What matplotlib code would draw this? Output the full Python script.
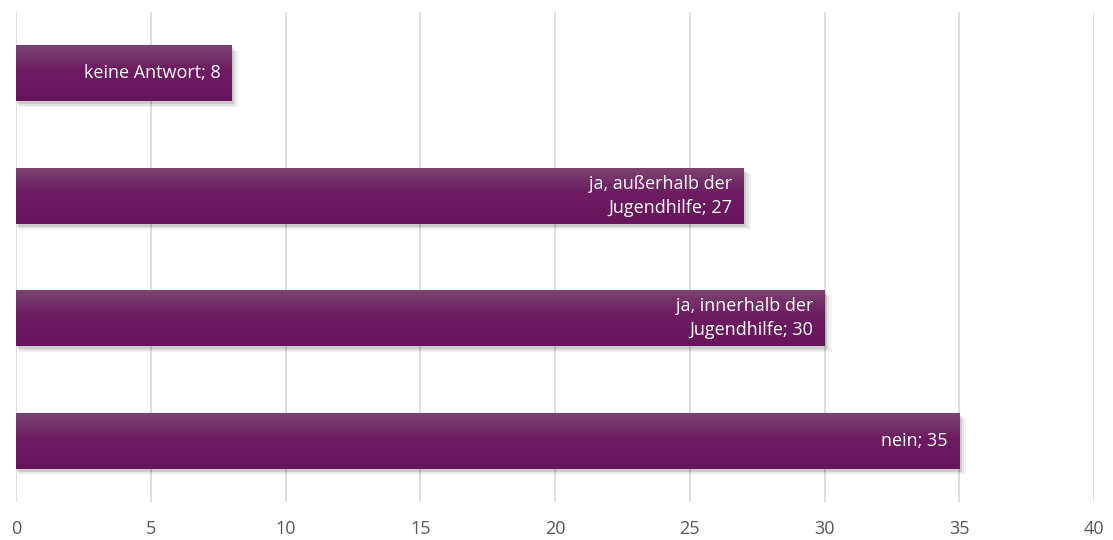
import matplotlib
matplotlib.use("Agg")
import matplotlib.pyplot as plt
import numpy as np
from matplotlib.patches import Rectangle
import matplotlib.colors as mcolors

categories = ["nein", "ja, innerhalb der\nJugendhilfe", "ja, außerhalb der\nJugendhilfe", "keine Antwort"]
values = [35, 30, 27, 8]
xticks = [0, 5, 10, 15, 20, 25, 30, 35, 40]

plt.rcParams['font.family'] = ['Open Sans', 'DejaVu Sans']

fig = plt.figure(figsize=(11.13, 5.4), dpi=100)
ax = fig.add_axes([16/1113, 38/540, (1094-16)/1113, (502-12)/540])

bar_h = 0.46
top_col = np.array(mcolors.to_rgb("#7c4472"))
mid_col = np.array(mcolors.to_rgb("#6d1c61"))
bot_col = np.array(mcolors.to_rgb("#66155a"))
n = 100
t = np.linspace(0, 1, n)
grad = np.zeros((n, 1, 3))
for i, tt in enumerate(t):
    if tt > 0.55:
        f = (tt - 0.55) / 0.45
        grad[i, 0] = mid_col * (1 - f) + top_col * f
    else:
        f = tt / 0.55
        grad[i, 0] = bot_col * (1 - f) + mid_col * f

for i, (cat, v) in enumerate(zip(categories, values)):
    y0 = i - bar_h / 2
    for k, a in enumerate([0.10, 0.07, 0.04]):
        sh = Rectangle((0.05 + 0.03 * k, y0 - 0.025 - 0.012 * k), v + 0.05 * (k + 1), bar_h,
                       facecolor="black", alpha=a, edgecolor="none", zorder=2)
        ax.add_patch(sh)
    rect = Rectangle((0, y0), v, bar_h, facecolor="none", edgecolor="none", zorder=3)
    ax.add_patch(rect)
    im = ax.imshow(grad, extent=[0, v, y0, y0 + bar_h], origin="lower", aspect="auto", zorder=3)
    im.set_clip_path(rect)
    label = f"{cat}; {v}"
    ax.text(v - 0.42, i, label, ha="right", va="center", color="white", fontsize=13,
            multialignment="right", zorder=4, linespacing=1.4)

ax.set_xlim(0, 40)
ax.set_ylim(-0.5, 3.5)
ax.set_xticks(xticks)
ax.set_yticks([])
ax.grid(axis="x", color="#d9d9d9", linewidth=1.2, zorder=0)
ax.set_axisbelow(True)
for s in ax.spines.values():
    s.set_visible(False)
ax.tick_params(axis="x", length=0, labelsize=13, labelcolor="#595959", pad=13)

fig.savefig("out.png", dpi=100)
